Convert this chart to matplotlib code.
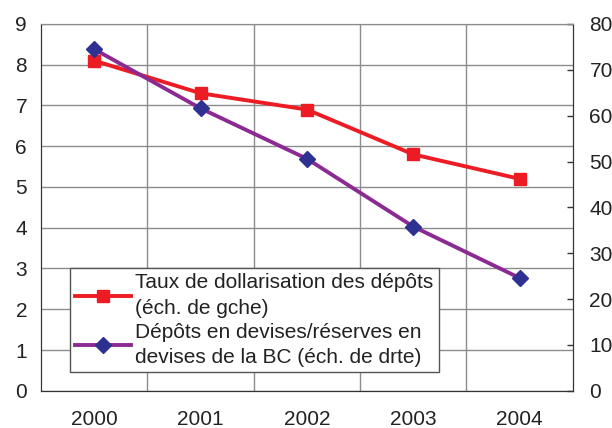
import matplotlib.pyplot as plt
from matplotlib.ticker import FixedLocator

plt.rcParams['font.family'] = ['Liberation Sans', 'DejaVu Sans']

years = ['2000', '2001', '2002', '2003', '2004']
taux = [8.1, 7.3, 6.9, 5.8, 5.2]
depots = [74.5, 61.6, 50.6, 35.8, 24.6]

label_taux = 'Taux de dollarisation des dépôts\n(éch. de gche)'
label_depots = 'Dépôts en devises/réserves en\ndevises de la BC (éch. de drte)'

text_color = '#222222'
grid_color = '#8c8c8c'
fs = 15


def main():
    fig = plt.figure(figsize=(6.12, 4.28), dpi=100)
    ax = fig.add_axes([0.067, 0.087, 0.869, 0.857])
    ax2 = ax.twinx()

    x = list(range(len(years)))
    l1, = ax.plot(x, taux, color='#ed1c24', lw=2.8, marker='s', ms=9,
                  markerfacecolor='#ed1c24', markeredgecolor='#ed1c24', label=label_taux)
    l2, = ax2.plot(x, depots, color='#8b2a92', lw=2.8, marker='D', ms=8,
                   markerfacecolor='#2e3192', markeredgecolor='#2e3192', label=label_depots)

    ax.set_xlim(-0.5, len(years) - 0.5)
    ax.set_ylim(0, 9)
    ax2.set_ylim(0, 80)
    ax.set_yticks(range(0, 10))
    ax2.set_yticks(range(0, 90, 10))
    ax.set_xticks(x)
    ax.set_xticklabels(years)
    ax.xaxis.set_minor_locator(FixedLocator([i + 0.5 for i in x[:-1]]))

    ax.grid(True, which='major', axis='y', color=grid_color, lw=1)
    ax.grid(True, which='minor', axis='x', color=grid_color, lw=1)
    ax.set_axisbelow(True)

    ax.tick_params(axis='y', length=0, pad=10, labelsize=fs, labelcolor=text_color)
    ax.tick_params(axis='x', which='major', length=0, pad=14, labelsize=fs, labelcolor=text_color)
    ax.tick_params(axis='x', which='minor', length=0)
    ax2.tick_params(axis='y', direction='in', length=4, width=1, color='#333333',
                    pad=12, labelsize=fs, labelcolor=text_color)

    for a in (ax, ax2):
        a.spines['top'].set_color(grid_color)
        a.spines['left'].set_color('#333333')
        a.spines['bottom'].set_color('#333333')
        a.spines['right'].set_color('#333333')

    leg = ax2.legend(handles=[l1, l2], loc='lower left', bbox_to_anchor=(0.054, 0.05),
                     fontsize=fs, frameon=True, fancybox=False, framealpha=1,
                     edgecolor='#555555', handlelength=2.7, handletextpad=0.2,
                     borderpad=0.25, labelspacing=0.25, borderaxespad=0)
    leg.get_frame().set_linewidth(1)
    for t in leg.get_texts():
        t.set_color(text_color)
        t.set_linespacing(1.42)

    plt.savefig('out.png', dpi=100)
    plt.close()


main()
